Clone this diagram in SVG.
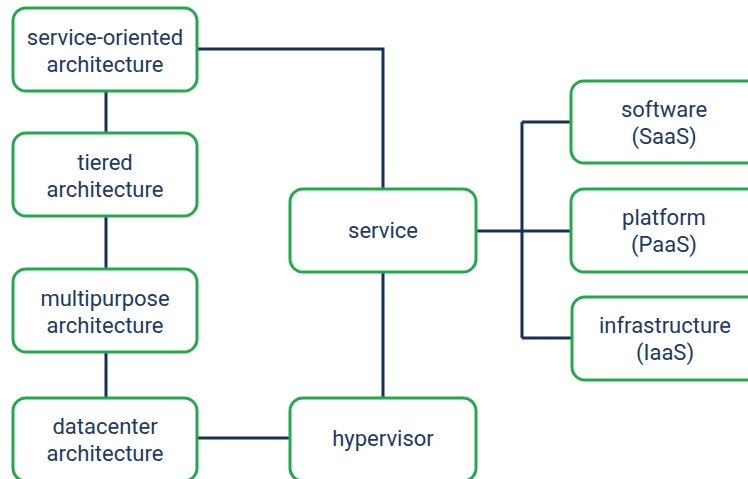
<svg xmlns="http://www.w3.org/2000/svg" width="748" height="479" viewBox="0 0 748 479">
  <style>
    .box { fill: #ffffff; stroke: #22a94b; stroke-width: 3; }
    .lbl { font-family: Roboto, "Liberation Sans", sans-serif; font-size: 22px; fill: #1d3a64; text-anchor: middle; }
    .wire { fill: none; stroke: #14305c; stroke-width: 3; }
  </style>
  <rect width="748" height="479" fill="#ffffff"/>

  <g id="connectors">
    <path class="wire" d="M106 91 V133 M106 216 V269 M106 352 V398"/>
    <path class="wire" d="M197 49 H383 V189 M383 272 V398"/>
    <path class="wire" d="M197 438 H290"/>
    <path class="wire" d="M476 231 H571 M522 122 V338 M522 122 H571 M522 338 H572"/>
  </g>

  <g id="soa">
    <rect class="box" x="13" y="8" width="184" height="83" rx="13"/>
    <text class="lbl" x="105" y="45">service-oriented</text>
    <text class="lbl" x="105" y="72">architecture</text>
  </g>
  <g id="tiered">
    <rect class="box" x="13" y="133" width="184" height="83" rx="13"/>
    <text class="lbl" x="105" y="170">tiered</text>
    <text class="lbl" x="105" y="197">architecture</text>
  </g>
  <g id="multipurpose">
    <rect class="box" x="13" y="269" width="184" height="83" rx="13"/>
    <text class="lbl" x="105" y="306">multipurpose</text>
    <text class="lbl" x="105" y="333">architecture</text>
  </g>
  <g id="datacenter">
    <rect class="box" x="13" y="398" width="184" height="83" rx="13"/>
    <text class="lbl" x="105" y="434">datacenter</text>
    <text class="lbl" x="105" y="461">architecture</text>
  </g>
  <g id="service">
    <rect class="box" x="290" y="189" width="186" height="83" rx="13"/>
    <text class="lbl" x="383" y="238">service</text>
  </g>
  <g id="hypervisor">
    <rect class="box" x="290" y="398" width="186" height="83" rx="13"/>
    <text class="lbl" x="383" y="446">hypervisor</text>
  </g>
  <g id="saas">
    <rect class="box" x="571" y="81" width="190" height="82" rx="13"/>
    <text class="lbl" x="664" y="117">software</text>
    <text class="lbl" x="664" y="144">(SaaS)</text>
  </g>
  <g id="paas">
    <rect class="box" x="571" y="189" width="190" height="83" rx="13"/>
    <text class="lbl" x="664" y="225">platform</text>
    <text class="lbl" x="664" y="252">(PaaS)</text>
  </g>
  <g id="iaas">
    <rect class="box" x="572" y="297" width="190" height="83" rx="13"/>
    <text class="lbl" x="665" y="333">infrastructure</text>
    <text class="lbl" x="665" y="360">(IaaS)</text>
  </g>
</svg>
